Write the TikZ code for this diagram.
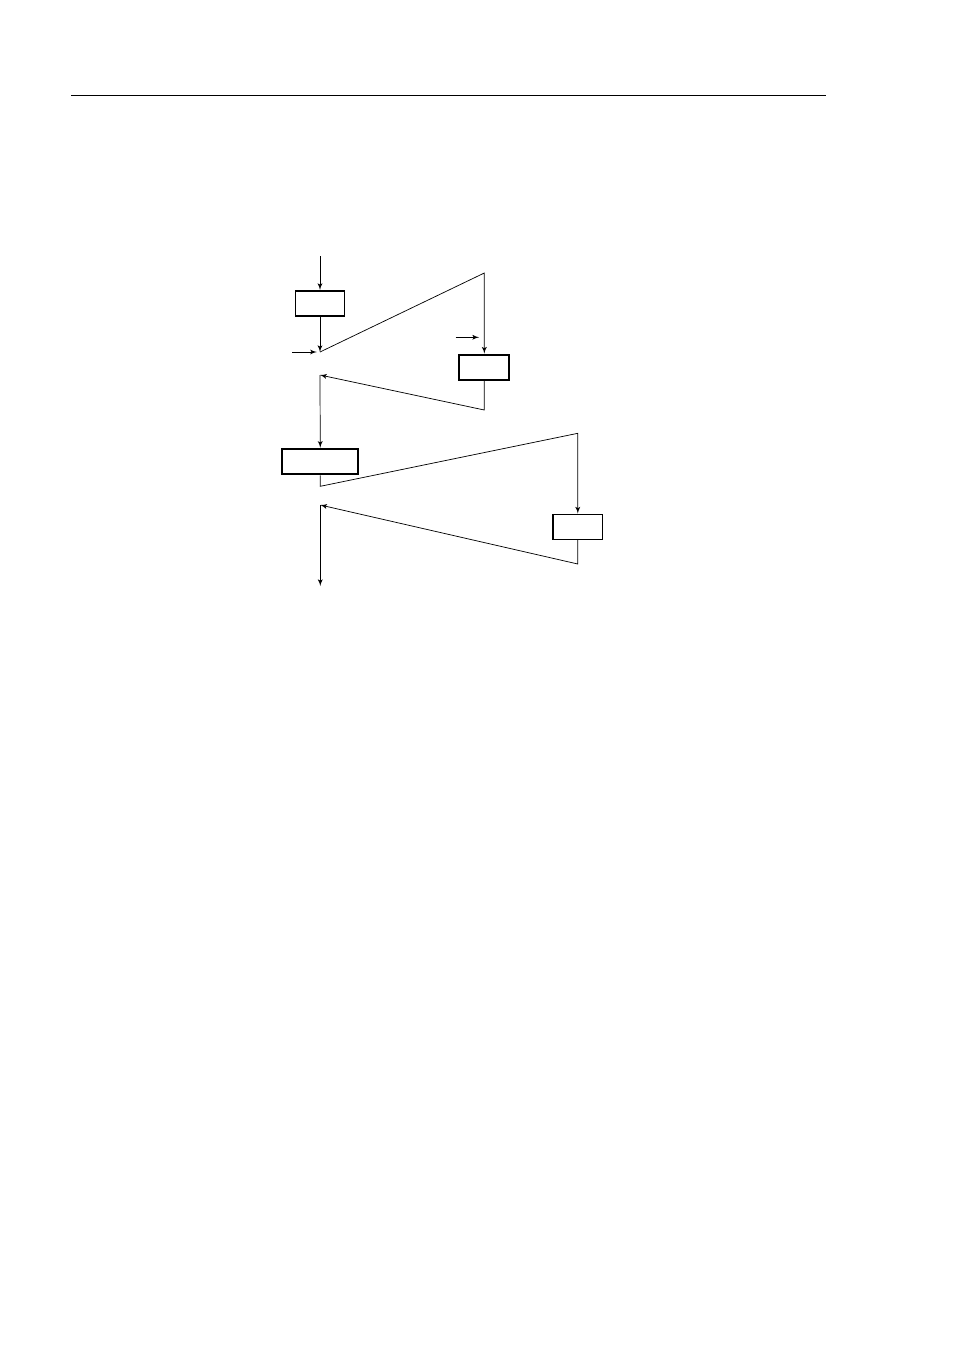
\documentclass[tikz,border=0pt]{standalone}
\usepackage{tikz}
\usetikzlibrary{arrows,positioning}
\tikzset{
  >=latex',
  block/.style={rectangle, draw=black, line width=1pt, inner sep=0pt, minimum height=5.6mm},
  line/.style={draw, line width=0.45pt, ->}
}
\tikzstyle{wire} = [draw, line width=0.45pt]
\begin{document}
\begin{tikzpicture}[x=0.22013mm,y=-0.22013mm]
  \useasboundingbox (0,0) rectangle (954,1351);

  % Header rule
  \coordinate (hl) at (71,95);
  \coordinate (hr) at (826,95);
  \draw[line width=0.6pt] (hl) -- (hr);

  % Boxes
  \node (b1) [block, minimum width=10.8mm] at (320,303.5) {};
  \node (b2) [block, minimum width=11.0mm, line width=1.3pt] at (484.3,367.3) {};
  \node (b3) [block, minimum width=16.7mm, line width=1.3pt] at (320.3,461.5) {};
  \node (b4) [block, minimum width=10.8mm, minimum height=5.5mm] at (577.8,526.8) {};

  % Junction points
  \coordinate (in1) at (320,256);
  \coordinate (j1) at (320,352);
  \coordinate (s1) at (292,352);
  \coordinate (t1) at (484.3,273);
  \coordinate (s2) at (455.7,337.3);
  \coordinate (e2) at (479,337.3);
  \coordinate (r1) at (484.3,410);
  \coordinate (j2) at (320,375);
  \coordinate (j3) at (320.3,486.3);
  \coordinate (t2) at (577.8,433.3);
  \coordinate (r2) at (577.8,564);
  \coordinate (j4) at (320.3,505);
  \coordinate (out) at (320.3,586);

  % Draw arrows between elements
  \path [line] (in1) -- (b1);
  \path [line] (b1) -- (j1);
  \path [line, shorten >=2pt] (s1) -- (j1);
  \path [line] (j1) -- (t1) -- (b2);
  \path [line] (s2) -- (e2);
  \path [line] (b2) -- (r1) -- (j2);
  \path [line] (j2) -- (b3);
  \path [line] (b3) -- (j3) -- (t2) -- (b4);
  \path [line] (b4) -- (r2) -- (j4);
  \path [line] (j4) -- (out);
\end{tikzpicture}
\end{document}
